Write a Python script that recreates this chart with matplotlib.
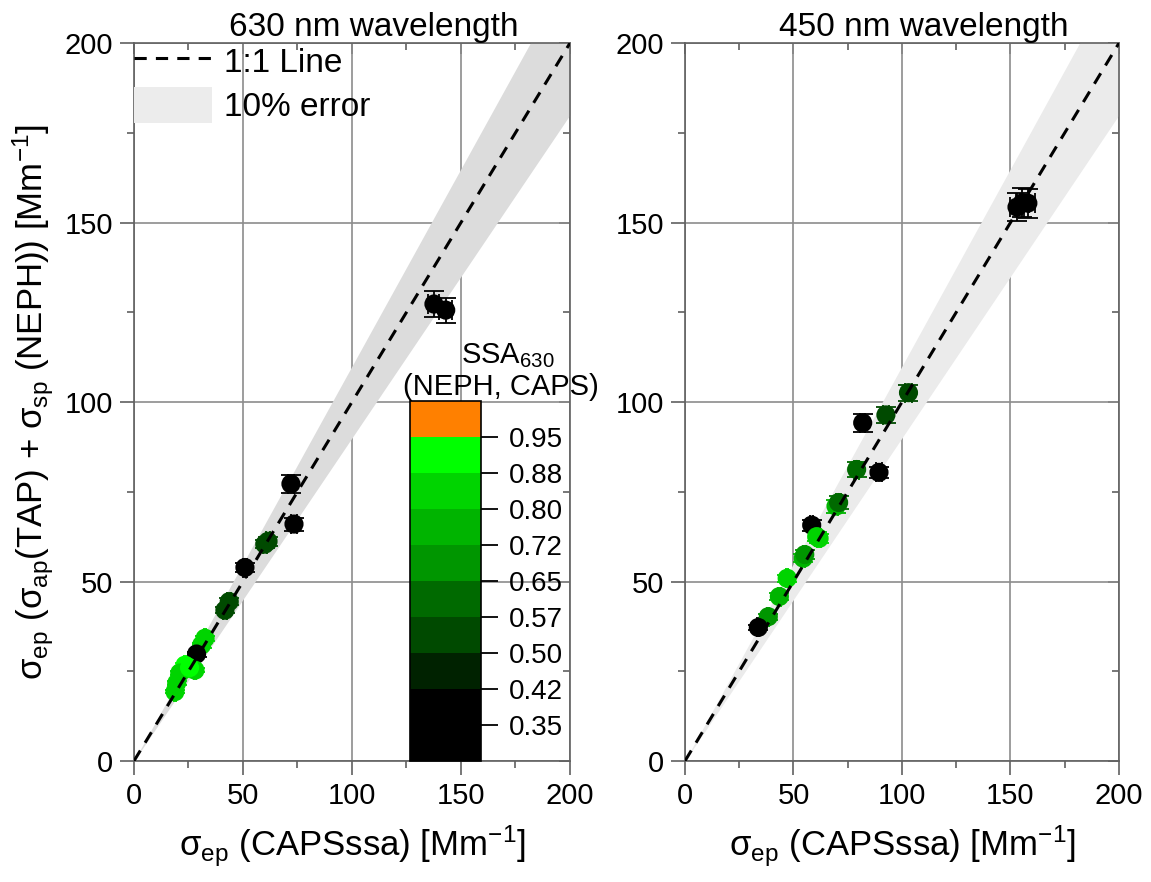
import numpy as np
import matplotlib
matplotlib.use("Agg")
import matplotlib.pyplot as plt
from matplotlib.colors import ListedColormap, BoundaryNorm
from matplotlib.cm import ScalarMappable
from matplotlib.patches import Patch
from matplotlib.lines import Line2D

plt.rcParams['font.family'] = ['Liberation Sans', 'DejaVu Sans']
plt.rcParams['mathtext.fontset'] = 'custom'
plt.rcParams['mathtext.rm'] = 'Liberation Sans'
plt.rcParams['mathtext.it'] = 'Liberation Sans:italic'

# ==============================
#  Data
# ==============================
# 630 nm panel
x630 = [137.6, 143.0, 72.0, 73.4, 50.9, 60.0, 61.5, 41.7, 43.7, 31.0, 32.6, 28.7,
        23.4, 28.0, 21.0, 19.6, 18.8, 25.5]
y630 = [127.3, 125.6, 77.2, 66.0, 53.9, 60.4, 61.2, 42.0, 44.4, 32.3, 34.2, 29.8,
        26.7, 25.3, 24.5, 21.7, 19.3, 26.0]
ssa630 = [0.35, 0.35, 0.35, 0.35, 0.35, 0.53, 0.55, 0.55, 0.53, 0.84, 0.82, 0.35,
          0.90, 0.84, 0.86, 0.84, 0.82, 0.90]
xerr630 = [2.5, 3.0, 1.5, 1.5, 1.0, 1.0, 1.0, 0.8, 0.8, 0.6, 0.6, 0.6,
           0.5, 0.5, 0.5, 0.4, 0.4, 0.5]
yerr630 = [3.5, 3.5, 2.5, 1.8, 1.2, 1.2, 1.2, 0.9, 0.9, 0.7, 0.7, 0.7,
           0.5, 0.5, 0.5, 0.5, 0.4, 0.5]

# 450 nm panel
x450 = [153.0, 155.5, 158.0, 103.0, 92.6, 81.9, 79.1, 89.4, 69.6, 70.8, 58.4,
        60.7, 61.8, 54.5, 55.2, 47.1, 43.5, 38.4, 33.8]
y450 = [154.3, 155.5, 155.4, 102.6, 96.4, 94.2, 81.2, 80.4, 71.0, 72.0, 65.7,
        62.5, 62.0, 56.5, 57.5, 50.9, 45.8, 40.2, 37.2]
ssa450 = [0.35, 0.35, 0.35, 0.53, 0.55, 0.35, 0.61, 0.35, 0.76, 0.62, 0.35,
          0.86, 0.84, 0.76, 0.70, 0.84, 0.78, 0.68, 0.35]
xerr450 = [3.0, 3.0, 3.5, 1.5, 1.5, 1.2, 1.2, 1.2, 1.0, 1.0, 0.8,
           0.8, 0.8, 0.7, 0.7, 0.6, 0.6, 0.5, 0.5]
yerr450 = [4.0, 4.0, 4.0, 2.2, 2.2, 2.5, 2.0, 1.5, 1.8, 1.8, 1.5,
           1.2, 1.2, 1.2, 1.2, 1.0, 1.0, 0.8, 0.8]

# colour scale
ssa_bounds = [0.27, 0.35, 0.42, 0.50, 0.57, 0.65, 0.72, 0.80, 0.88, 0.95, 1.03]
ssa_colors = ['#000000', '#000000', '#002200', '#004a00', '#006a00',
              '#009600', '#00b400', '#00d400', '#00ff00', '#ff8000']
ssa_ticks = [0.35, 0.42, 0.50, 0.57, 0.65, 0.72, 0.80, 0.88, 0.95]

cmap = ListedColormap(ssa_colors)
norm = BoundaryNorm(ssa_bounds, cmap.N)

# ==============================
#  Figure
# ==============================
fig = plt.figure(figsize=(11.51, 8.82), dpi=100)
ax1 = fig.add_axes([0.1164, 0.1372, 0.3788, 0.8140])
ax2 = fig.add_axes([0.5951, 0.1372, 0.3771, 0.8140])

xlabel = 'σ$_\\mathregular{ep}$ (CAPSssa) [Mm$^\\mathregular{-1}$]'
ylabel = ('σ$_\\mathregular{ep}$ (σ$_\\mathregular{ap}$(TAP) + '
          'σ$_\\mathregular{sp}$ (NEPH)) [Mm$^\\mathregular{-1}$]')
DASH = (0, (4, 3))


def draw_panel(ax, xs, ys, ssa, xerr, yerr, title, band_color):
    line = np.array([0, 200])
    ax.fill_between(line, 0.9 * line, 1.1 * line, color=band_color, lw=0, zorder=1)

    for x, y, s, ex, ey in zip(xs, ys, ssa, xerr, yerr):
        c = cmap(norm(s))
        ax.errorbar(x, y, xerr=ex, yerr=ey, fmt='none', ecolor=c,
                    elinewidth=1.3, capsize=7, capthick=1.3, zorder=3)
    ax.scatter(xs, ys, c=ssa, cmap=cmap, norm=norm, s=190, edgecolors='none', zorder=4)

    ax.plot(line, line, ls=DASH, color='black', lw=2.2, zorder=5)

    ax.set_xlim(0, 200)
    ax.set_ylim(0, 200)
    ax.set_xticks([0, 50, 100, 150, 200])
    ax.set_yticks([0, 50, 100, 150, 200])
    ax.set_xticks([25, 75, 125, 175], minor=True)
    ax.set_yticks([25, 75, 125, 175], minor=True)
    ax.grid(True, which='major', color='#8c8c8c', lw=1.2, zorder=0)
    ax.set_axisbelow(True)
    for sp in ax.spines.values():
        sp.set_color('#606060')
        sp.set_linewidth(1.2)
    ax.tick_params(which='major', direction='out', length=10, width=1.2,
                   color='#606060', labelsize=21, pad=5)
    ax.tick_params(which='minor', direction='out', length=5, width=1.2, color='#606060')

    # mirrored ticks on top/right, pointing inwards
    top = ax.secondary_xaxis('top')
    top.set_xticks([0, 50, 100, 150, 200])
    top.set_xticks([25, 75, 125, 175], minor=True)
    top.tick_params(which='both', direction='in', labeltop=False, color='#606060', width=1.2)
    top.tick_params(which='major', length=8)
    top.tick_params(which='minor', length=5)
    top.spines['top'].set_visible(False)
    right = ax.secondary_yaxis('right')
    right.set_yticks([0, 50, 100, 150, 200])
    right.set_yticks([25, 75, 125, 175], minor=True)
    right.tick_params(which='both', direction='in', labelright=False, color='#606060', width=1.2)
    right.tick_params(which='major', length=8)
    right.tick_params(which='minor', length=5)
    right.spines['right'].set_visible(False)

    ax.set_title(title, fontsize=24, pad=1, x=0.55)
    ax.set_xlabel(xlabel, fontsize=25, labelpad=10)


draw_panel(ax1, x630, y630, ssa630, xerr630, yerr630, '630 nm wavelength', '#dcdcdc')
draw_panel(ax2, x450, y450, ssa450, xerr450, yerr450, '450 nm wavelength', '#ebebeb')
ax1.set_ylabel(ylabel, fontsize=25, labelpad=6)

# legend
handles = [Line2D([], [], ls=DASH, color='black', lw=2.2),
           Patch(facecolor='#ececec', edgecolor='none')]
ax1.legend(handles, ['1:1 Line', '10% error'], loc='upper left', frameon=False,
           fontsize=24, handlelength=2.35, handleheight=1.3, handletextpad=0.35,
           labelspacing=0.22, borderaxespad=0.0, borderpad=0.0)

# colour bar
cax = fig.add_axes([0.3562, 0.1372, 0.0617, 0.4082])
cb = fig.colorbar(ScalarMappable(norm=norm, cmap=cmap), cax=cax, ticks=ssa_ticks)
cb.ax.set_yticklabels(['%.2f' % t for t in ssa_ticks])
cb.ax.tick_params(labelsize=20, length=12, width=1.3, direction='out', pad=8)
cb.outline.set_linewidth(1.2)
cb.ax.minorticks_off()
fig.text(0.441, 0.597, 'SSA$_\\mathregular{630}$', fontsize=21, ha='center', va='center')
fig.text(0.435, 0.561, '(NEPH, CAPS)', fontsize=21, ha='center', va='center')

fig.savefig('out.png', dpi=100)
